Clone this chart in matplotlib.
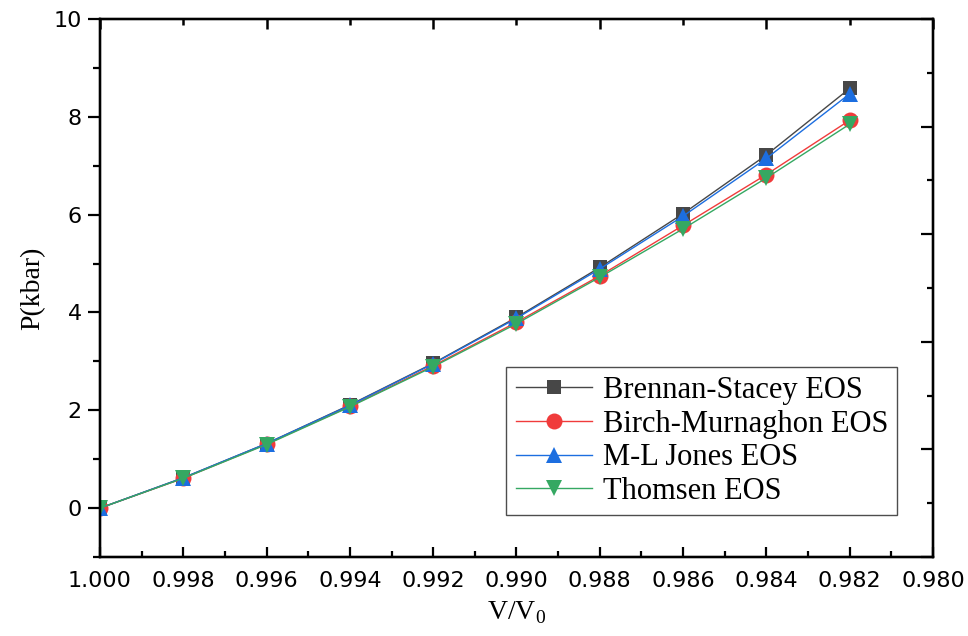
import matplotlib
matplotlib.use('Agg')
import matplotlib.pyplot as plt
from matplotlib.ticker import MultipleLocator, FormatStrFormatter, NullFormatter

# compression ratio V/V0
volume_ratio = [1.000, 0.998, 0.996, 0.994, 0.992, 0.990, 0.988, 0.986, 0.984, 0.982]

# pressure (kbar) from each equation of state
brennan_stacey = [0.0, 0.62, 1.32, 2.11, 2.96, 3.90, 4.92, 6.02, 7.22, 8.58]
birch_murnaghan = [0.0, 0.61, 1.31, 2.08, 2.91, 3.80, 4.75, 5.78, 6.82, 7.93]
ml_jones = [0.0, 0.62, 1.32, 2.10, 2.95, 3.88, 4.89, 5.97, 7.15, 8.47]
thomsen = [0.0, 0.61, 1.30, 2.07, 2.89, 3.77, 4.72, 5.71, 6.75, 7.85]

series = [
    ('Brennan-Stacey EOS', brennan_stacey, '#474747', 's', 10.5),
    ('Birch-Murnaghon EOS', birch_murnaghan, '#f03b3b', 'o', 11.5),
    ('M-L Jones EOS', ml_jones, '#1c6ee0', '^', 12),
    ('Thomsen EOS', thomsen, '#35a862', 'v', 12),
]

plt.rcParams['font.family'] = 'DejaVu Sans'
serif = 'Liberation Serif'

fig = plt.figure(figsize=(9.68, 6.36), dpi=100)
ax = fig.add_axes([0.1033, 0.1242, 0.8605, 0.8459])

for label, values, color, marker, ms in series:
    ax.plot(volume_ratio, values, color=color, lw=1.0, marker=marker,
            markersize=ms, markeredgewidth=0, label=label)

ax.set_xlim(1.000, 0.980)
ax.set_ylim(-1, 10)

ax.xaxis.set_major_locator(MultipleLocator(0.002))
ax.xaxis.set_minor_locator(MultipleLocator(0.001))
ax.xaxis.set_major_formatter(FormatStrFormatter('%.3f'))
ax.yaxis.set_major_locator(MultipleLocator(2))
ax.yaxis.set_minor_locator(MultipleLocator(1))

ax.tick_params(axis='x', which='major', direction='in', length=7.5, width=1.6,
               labelsize=16, pad=10)
ax.tick_params(axis='x', which='minor', direction='in', length=4, width=1.6)
ax.tick_params(axis='y', which='major', direction='out', length=9, width=1.6,
               labelsize=16, pad=4)
ax.tick_params(axis='y', which='minor', direction='out', length=5, width=1.6)

# right axis spans 0..10 over the full height
right = ax.twinx()
right.set_ylim(0, 10)
right.yaxis.set_major_locator(MultipleLocator(2))
right.yaxis.set_minor_locator(MultipleLocator(1))
right.yaxis.set_major_formatter(NullFormatter())
right.tick_params(which='major', direction='in', length=9, width=1.6)
right.tick_params(which='minor', direction='in', length=4.5, width=1.6)

# top axis: inward ticks every 0.004 with minors in between
top = ax.twiny()
top.set_xlim(1.000, 0.980)
top.xaxis.set_major_locator(MultipleLocator(0.004))
top.xaxis.set_minor_locator(MultipleLocator(0.002))
top.xaxis.set_major_formatter(NullFormatter())
top.tick_params(axis='x', which='major', direction='in', length=7.5, width=1.8,
                color='black', top=True, bottom=False)
top.tick_params(axis='x', which='minor', direction='in', length=4, width=1.8,
                color='black', top=True, bottom=False)

for a in (ax, right, top):
    for side in a.spines.values():
        side.set_linewidth(1.6)

ax.set_xlabel(r'V/V$_\mathregular{0}$', fontfamily=serif, fontsize=20, labelpad=6)
ax.set_ylabel('P(kbar)', fontfamily=serif, fontsize=20, labelpad=6)

leg = ax.legend(loc='lower right', bbox_to_anchor=(0.957, 0.078),
                prop={'family': serif, 'size': 22}, frameon=True, fancybox=False,
                edgecolor='#222222', handlelength=2.5, handletextpad=0.35,
                labelspacing=0.15, borderpad=0.3, borderaxespad=0)
leg.get_frame().set_linewidth(1.0)
leg.set_zorder(5)

fig.savefig('out.png', dpi=100)
